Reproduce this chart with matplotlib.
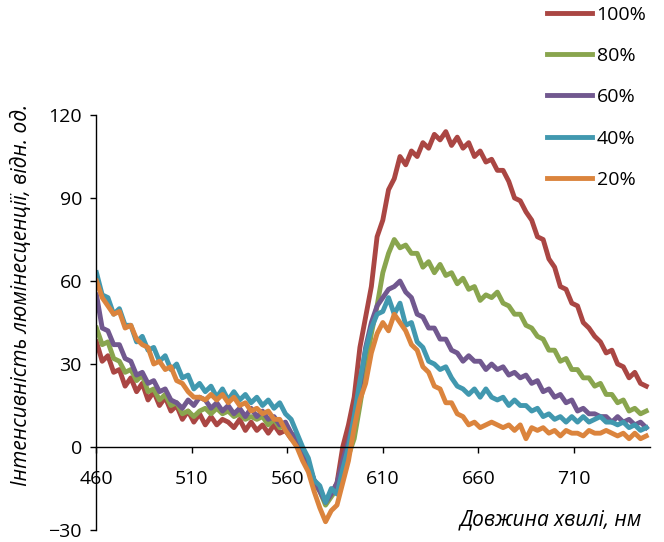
import numpy as np
import matplotlib
matplotlib.use('Agg')
import matplotlib.pyplot as plt

plt.rcParams['font.family'] = ['Open Sans', 'DejaVu Sans']

# Довжина хвилі, нм (крок 3 нм)
wavelength = np.arange(460, 749, 3)

labels = ['100%', '80%', '60%', '40%', '20%']
colors = ['#AA4643', '#89A54E', '#71588F', '#4198AF', '#DB843D']

int_100 = [38, 31, 33, 27, 28, 22, 25, 20, 23, 17,
           20, 15, 18, 13, 15, 10, 13, 9, 12, 8,
           11, 8, 10, 9, 7, 10, 6, 9, 6, 8,
           5, 8, 5, 6, 3, 2, -2, -6, -12, -15,
           -20, -17, -13, 0, 8, 18, 36, 47, 58, 76,
           82, 93, 97, 105, 102, 107, 105, 110, 108, 113,
           111, 114, 109, 112, 108, 110, 105, 107, 103, 104,
           100, 100, 96, 90, 89, 85, 82, 76, 75, 68,
           65, 58, 57, 52, 51, 45, 43, 40, 38, 34,
           35, 30, 29, 25, 27, 23, 22]

int_80 = [43, 37, 38, 32, 31, 27, 28, 24, 26, 20,
          21, 17, 19, 15, 16, 12, 13, 11, 13, 14,
          12, 14, 12, 13, 11, 12, 10, 11, 10, 11,
          8, 10, 7, 8, 5, 2, -3, -6, -13, -16,
          -21, -18, -15, -7, -3, 3, 15, 28, 41, 51,
          63, 70, 75, 72, 73, 70, 70, 65, 67, 63,
          66, 62, 63, 59, 61, 57, 58, 53, 55, 54,
          56, 52, 51, 48, 48, 44, 43, 40, 39, 35,
          35, 31, 32, 28, 28, 25, 25, 22, 23, 19,
          19, 16, 17, 13, 14, 12, 13]

int_60 = [55, 43, 42, 37, 37, 32, 31, 26, 27, 23,
          24, 20, 21, 17, 16, 14, 17, 15, 18, 17,
          14, 16, 13, 15, 12, 14, 11, 14, 11, 13,
          10, 11, 8, 9, 5, 3, -2, -6, -12, -16,
          -20, -17, -13, -5, 2, 11, 22, 36, 45, 51,
          54, 57, 58, 60, 56, 54, 48, 47, 43, 43,
          39, 39, 35, 34, 31, 33, 31, 31, 28, 30,
          28, 29, 26, 27, 25, 26, 23, 24, 20, 21,
          18, 19, 16, 17, 13, 14, 12, 12, 11, 11,
          9, 11, 9, 10, 8, 9, 7]

int_40 = [63, 55, 54, 48, 50, 44, 44, 38, 40, 35,
          36, 31, 33, 28, 30, 25, 26, 21, 23, 20,
          22, 18, 21, 17, 20, 17, 19, 16, 18, 15,
          17, 14, 16, 12, 10, 5, 0, -4, -12, -14,
          -20, -15, -17, -8, 0, 11, 24, 35, 43, 48,
          49, 54, 48, 52, 44, 45, 38, 36, 31, 30,
          28, 29, 25, 22, 21, 19, 21, 18, 21, 18,
          17, 18, 15, 17, 15, 15, 13, 14, 11, 12,
          10, 11, 9, 11, 9, 11, 9, 10, 11, 9,
          9, 8, 9, 7, 8, 6, 7]

int_20 = [60, 54, 51, 48, 49, 43, 44, 39, 37, 36,
          30, 31, 28, 29, 24, 23, 20, 18, 18, 17,
          19, 17, 19, 16, 18, 15, 16, 13, 14, 12,
          13, 10, 10, 6, 3, 0, -5, -9, -16, -22,
          -27, -23, -21, -13, -5, 7, 17, 23, 34, 41,
          45, 42, 48, 45, 42, 37, 35, 29, 27, 22,
          21, 16, 16, 12, 11, 8, 9, 7, 8, 9,
          8, 7, 8, 6, 8, 3, 7, 6, 7, 5,
          6, 4, 6, 5, 5, 4, 6, 5, 5, 6,
          5, 4, 5, 3, 5, 3, 4]

series = [int_100, int_80, int_60, int_40, int_20]

fig = plt.figure(figsize=(6.64, 5.42), dpi=100)
ax = fig.add_axes([0.1453, 0.0221, 0.8337, 0.7657])

for vals, lab, col in zip(series, labels, colors):
    ax.plot(wavelength, vals, color=col, lw=3.5, label=lab, solid_joinstyle='round')

ax.set_xlim(460, 750)
ax.set_ylim(-30, 120)
ax.set_xticks([460, 510, 560, 610, 660, 710])
ax.set_yticks([-30, 0, 30, 60, 90, 120])

ax.spines['top'].set_visible(False)
ax.spines['right'].set_visible(False)
ax.spines['bottom'].set_position(('data', 0))
ax.spines['left'].set_linewidth(1.0)
ax.spines['bottom'].set_linewidth(1.0)

ax.tick_params(axis='y', direction='out', length=4.5, width=1, pad=6, labelsize=14)
ax.tick_params(axis='x', direction='out', length=4.5, width=1, pad=12, labelsize=14)

fig.text(0.033, 0.456, 'Інтенсивність люмінесценції, відн. од.', rotation=90,
         ha='center', va='center', fontsize=15, style='italic')
fig.text(0.967, 0.041, 'Довжина хвилі, нм', ha='right', va='center',
         fontsize=15, style='italic')

fig.legend(loc='upper left', bbox_to_anchor=(0.818, 0.997), frameon=False,
           fontsize=14, handlelength=2.3, handletextpad=0.25,
           labelspacing=1.2, borderpad=0.2, borderaxespad=0)

fig.savefig('out.png', dpi=100)
